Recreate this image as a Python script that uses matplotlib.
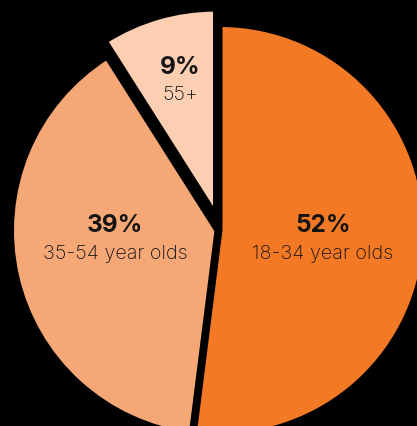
import matplotlib
matplotlib.use("Agg")
import matplotlib.pyplot as plt

# Age breakdown
categories = ["18-34 year olds", "35-54 year olds", "55+"]
shares = [52, 39, 9]
colors = ["#F47924", "#F6A776", "#FCCFB2"]

W, H = 417, 427
fig = plt.figure(figsize=(W / 100, H / 100), dpi=100, facecolor="black")
ax = fig.add_axes([0, 0, 1, 1])
ax.set_facecolor("black")

center = (220, H - 231)
radius = 205.5
# pie() applies explode in data units, so scale the fractions by the radius
explode = [f * radius for f in (0.0, 0.015, 0.078)]

ax.pie(
    shares,
    colors=colors,
    explode=explode,
    startangle=90,
    counterclock=False,
    center=center,
    radius=radius,
    wedgeprops=dict(edgecolor="black", linewidth=3.6),
)

ax.set_xlim(0, W)
ax.set_ylim(0, H)
ax.set_aspect("equal", adjustable="box")
ax.axis("off")

# Labels: percentage on top, group name underneath
label_pos = [(323, 226, 254), (115, 226, 254), (180, 67, 95)]
font = ["Inter", "DejaVu Sans"]
txt_color = "#141414"
for cat, val, (x, y_pct, y_name) in zip(categories, shares, label_pos):
    ax.text(x, H - y_pct, f"{val}%", ha="center", va="center",
            fontsize=17.5, fontweight="bold", family=font, color=txt_color)
    ax.text(x, H - y_name, cat, ha="center", va="center",
            fontsize=14.3, fontweight="light", family=font, color=txt_color)

fig.savefig("out.png", dpi=100, facecolor="black")
